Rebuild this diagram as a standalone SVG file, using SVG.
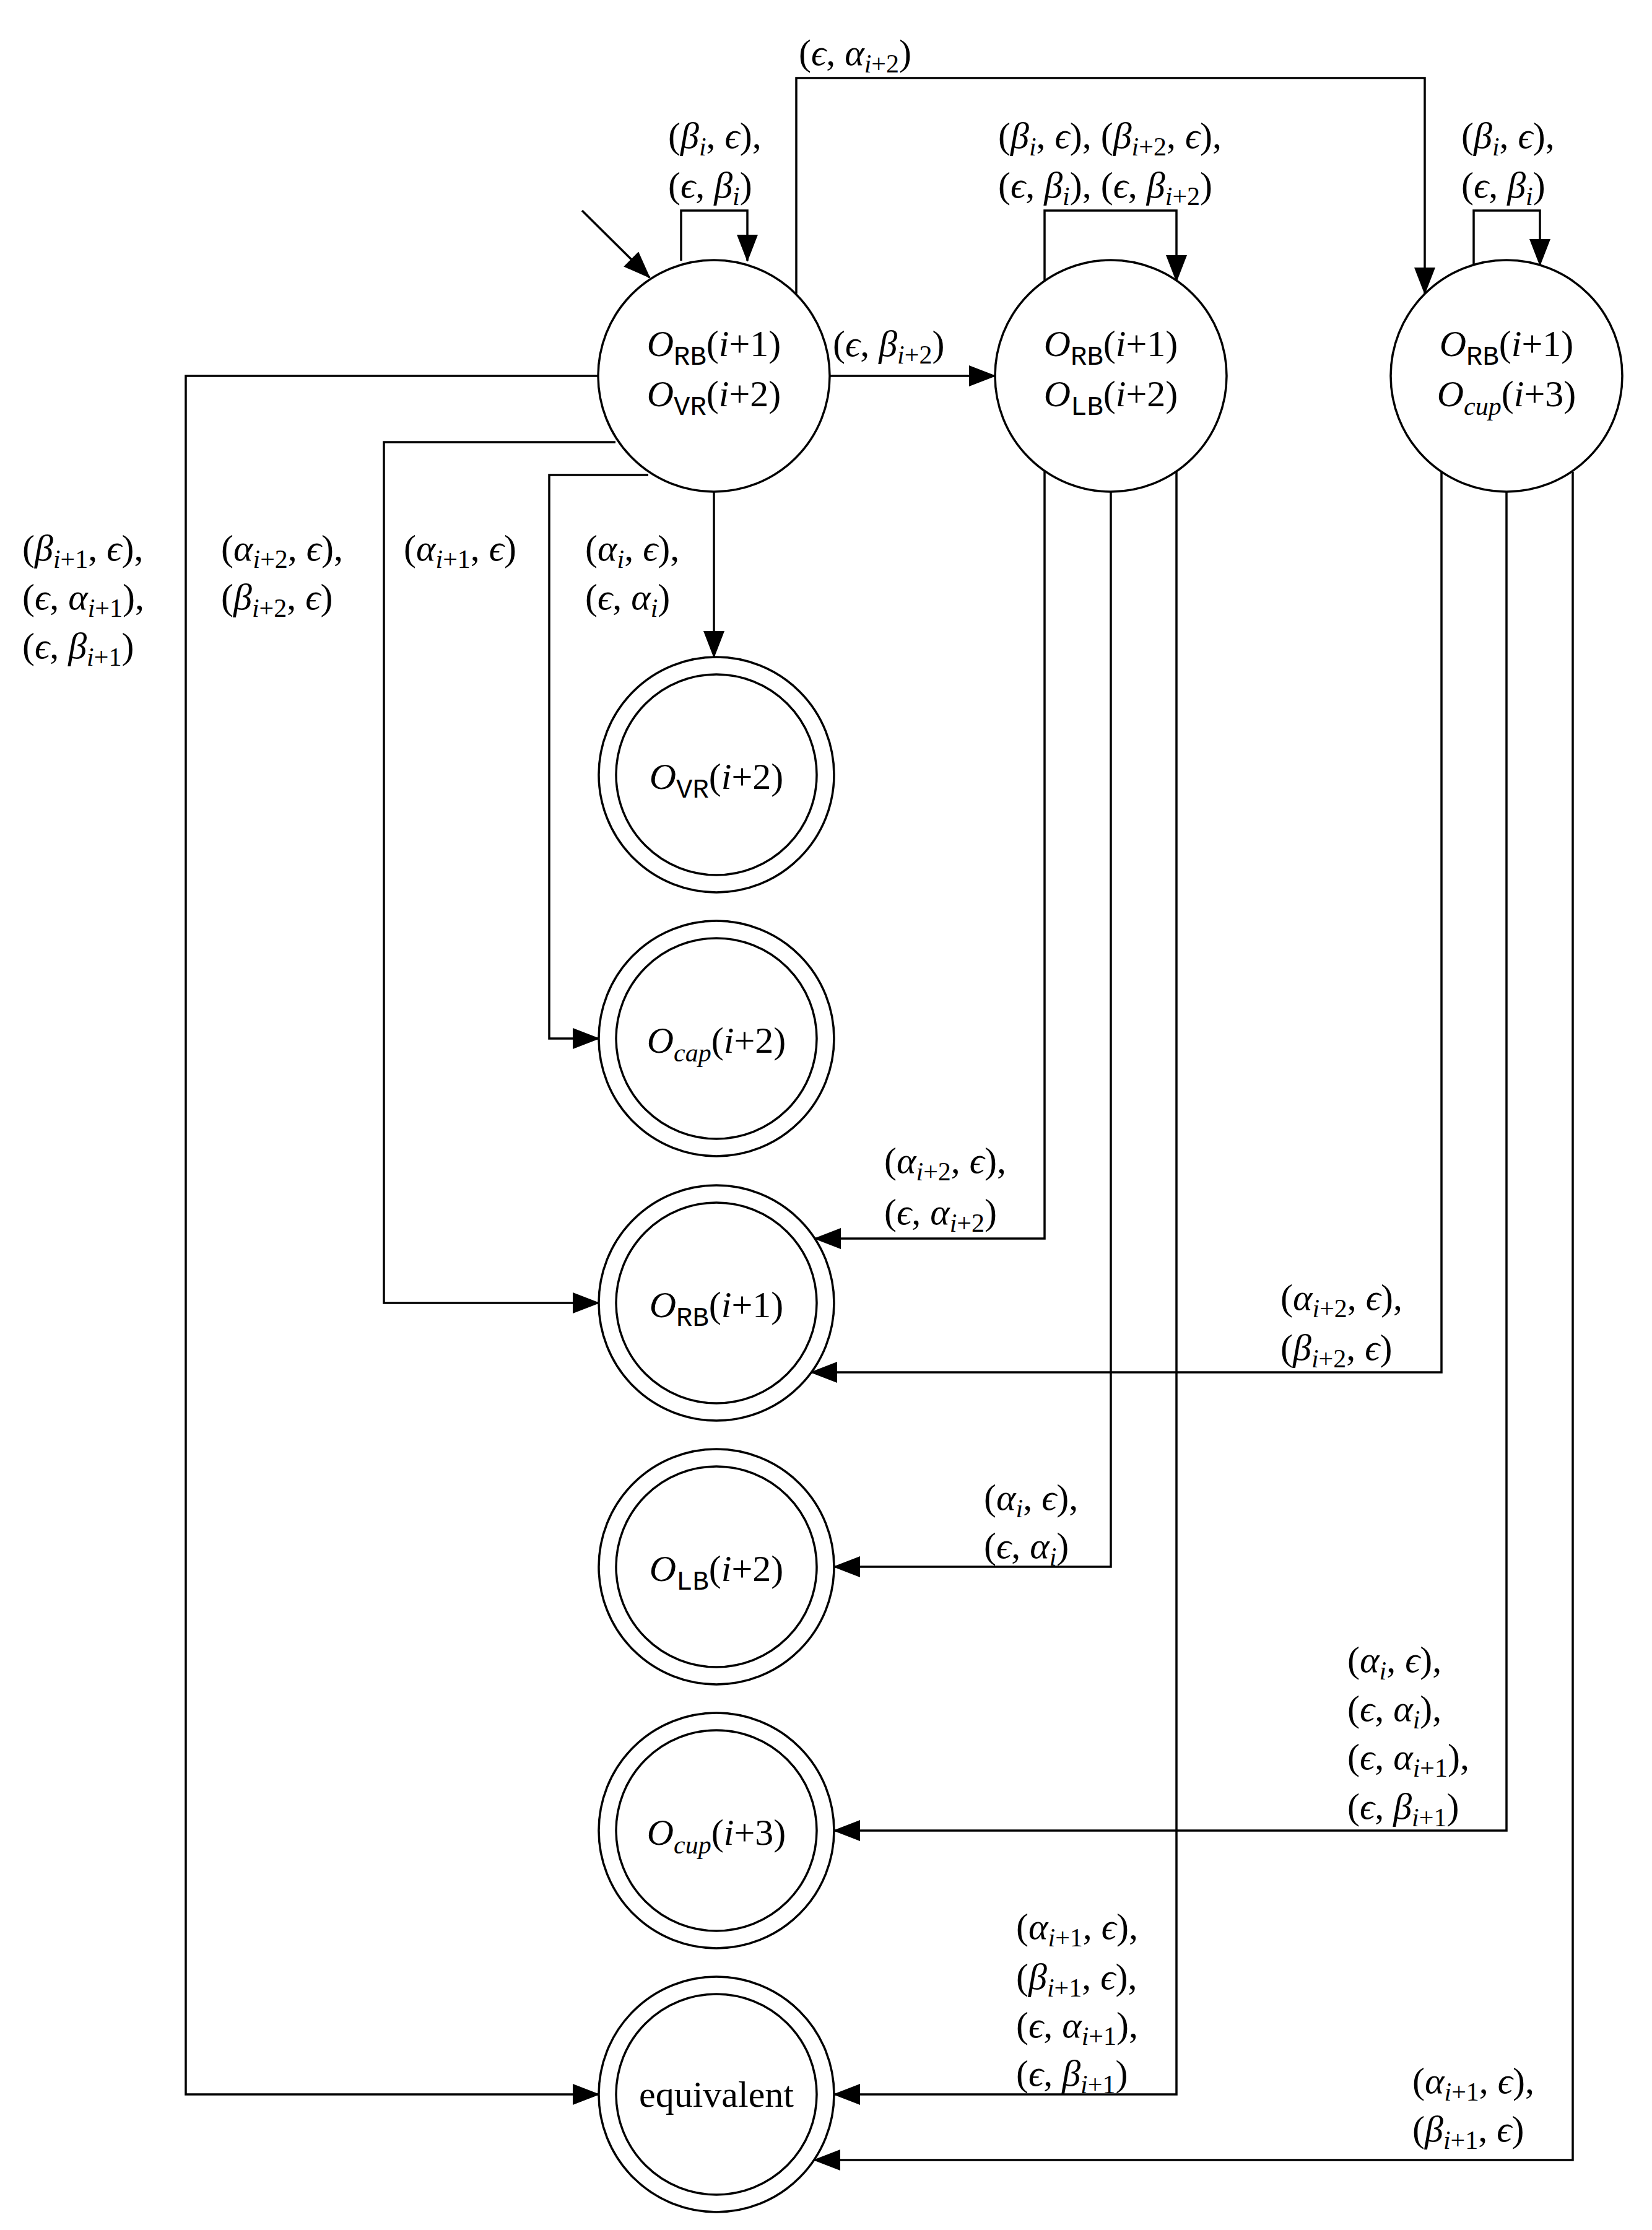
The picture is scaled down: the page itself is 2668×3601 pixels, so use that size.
<svg xmlns="http://www.w3.org/2000/svg" width="2668" height="3601" viewBox="0 0 2668 3601">
<style>
.t{font-family:"Liberation Serif","DejaVu Serif",serif;font-size:60px;fill:#000}
.m{font-style:italic}
.s{font-style:italic;font-size:42px}
.r{font-size:42px}
.tt{font-family:"Liberation Mono",monospace;font-size:44px}
.e{fill:#fff;stroke:#000;stroke-width:3.5}
.c{fill:none;stroke:#000;stroke-width:3.5}
</style>
<defs>
<marker id="a" markerUnits="userSpaceOnUse" markerWidth="44" markerHeight="34" refX="42" refY="17" orient="auto">
<path d="M0,0 L44,17 L0,34 Z" fill="#000"/>
</marker>
</defs>
<rect width="2668" height="3601" fill="#fff"/>
<g id="connectors" class="c" marker-end="url(#a)">
<path d="M940 340 L1049 448"/>
<path d="M1100 421 V340 H1207 V421"/>
<path d="M1286 474 V126 H2301 V474"/>
<path d="M1339 607 H1607"/>
<path d="M1687 454 V340 H1900 V454"/>
<path d="M2380 428 V340 H2487 V428"/>
<path d="M967 607 H300 V3382 H967"/>
<path d="M994 714 H620 V2104 H967"/>
<path d="M1047 767 H887 V1677 H967"/>
<path d="M1153 793 V1061"/>
<path d="M1687 760 V2000 H1316"/>
<path d="M1794 794 V2530 H1347"/>
<path d="M1900 760 V3382 H1347"/>
<path d="M2328 762 V2216 H1310"/>
<path d="M2433 794 V2956 H1347"/>
<path d="M2540 762 V3488 H1315"/>
</g>
<g id="n1"><ellipse class="e" cx="1153" cy="607" rx="187" ry="187"/>
<text class="t" x="1153" y="575" text-anchor="middle"><tspan class="m">O</tspan><tspan class="tt" dy="14">RB</tspan><tspan dy="-14">(</tspan><tspan class="m">i</tspan>+1)</text>
<text class="t" x="1153" y="656" text-anchor="middle"><tspan class="m">O</tspan><tspan class="tt" dy="14">VR</tspan><tspan dy="-14">(</tspan><tspan class="m">i</tspan>+2)</text></g>
<g id="n2"><ellipse class="e" cx="1794" cy="607" rx="187" ry="187"/>
<text class="t" x="1794" y="575" text-anchor="middle"><tspan class="m">O</tspan><tspan class="tt" dy="14">RB</tspan><tspan dy="-14">(</tspan><tspan class="m">i</tspan>+1)</text>
<text class="t" x="1794" y="656" text-anchor="middle"><tspan class="m">O</tspan><tspan class="tt" dy="14">LB</tspan><tspan dy="-14">(</tspan><tspan class="m">i</tspan>+2)</text></g>
<g id="n3"><ellipse class="e" cx="2433" cy="607" rx="187" ry="187"/>
<text class="t" x="2433" y="575" text-anchor="middle"><tspan class="m">O</tspan><tspan class="tt" dy="14">RB</tspan><tspan dy="-14">(</tspan><tspan class="m">i</tspan>+1)</text>
<text class="t" x="2433" y="656" text-anchor="middle"><tspan class="m">O</tspan><tspan class="s" dy="14">cup</tspan><tspan dy="-14">(</tspan><tspan class="m">i</tspan>+3)</text></g>
<g id="f1"><circle class="e" cx="1157" cy="1251" r="190"/><circle class="e" cx="1157" cy="1251" r="162"/>
<text class="t" x="1157" y="1274" text-anchor="middle"><tspan class="m">O</tspan><tspan class="tt" dy="14">VR</tspan><tspan dy="-14">(</tspan><tspan class="m">i</tspan>+2)</text></g>
<g id="f2"><circle class="e" cx="1157" cy="1677" r="190"/><circle class="e" cx="1157" cy="1677" r="162"/>
<text class="t" x="1157" y="1700" text-anchor="middle"><tspan class="m">O</tspan><tspan class="s" dy="14">cap</tspan><tspan dy="-14">(</tspan><tspan class="m">i</tspan>+2)</text></g>
<g id="f3"><circle class="e" cx="1157" cy="2104" r="190"/><circle class="e" cx="1157" cy="2104" r="162"/>
<text class="t" x="1157" y="2127" text-anchor="middle"><tspan class="m">O</tspan><tspan class="tt" dy="14">RB</tspan><tspan dy="-14">(</tspan><tspan class="m">i</tspan>+1)</text></g>
<g id="f4"><circle class="e" cx="1157" cy="2530" r="190"/><circle class="e" cx="1157" cy="2530" r="162"/>
<text class="t" x="1157" y="2553" text-anchor="middle"><tspan class="m">O</tspan><tspan class="tt" dy="14">LB</tspan><tspan dy="-14">(</tspan><tspan class="m">i</tspan>+2)</text></g>
<g id="f5"><circle class="e" cx="1157" cy="2956" r="190"/><circle class="e" cx="1157" cy="2956" r="162"/>
<text class="t" x="1157" y="2979" text-anchor="middle"><tspan class="m">O</tspan><tspan class="s" dy="14">cup</tspan><tspan dy="-14">(</tspan><tspan class="m">i</tspan>+3)</text></g>
<g id="f6"><circle class="e" cx="1157" cy="3382" r="190"/><circle class="e" cx="1157" cy="3382" r="162"/>
<text class="t" x="1157" y="3402" text-anchor="middle">equivalent</text></g>
<g id="labels">
<text class="t" x="1079" y="239">(<tspan class="m">β</tspan><tspan class="s" dy="12">i</tspan><tspan dy="-12">, </tspan><tspan class="m">ϵ</tspan>),</text>
<text class="t" x="1079" y="319">(<tspan class="m">ϵ</tspan>, <tspan class="m">β</tspan><tspan class="s" dy="12">i</tspan><tspan dy="-12">)</tspan></text>
<text class="t" x="1290" y="105">(<tspan class="m">ϵ</tspan>, <tspan class="m">α</tspan><tspan class="s" dy="12">i</tspan><tspan class="r">+2</tspan><tspan dy="-12">)</tspan></text>
<text class="t" x="1612" y="239">(<tspan class="m">β</tspan><tspan class="s" dy="12">i</tspan><tspan dy="-12">, </tspan><tspan class="m">ϵ</tspan>), (<tspan class="m">β</tspan><tspan class="s" dy="12">i</tspan><tspan class="r">+2</tspan><tspan dy="-12">, </tspan><tspan class="m">ϵ</tspan>),</text>
<text class="t" x="1612" y="319">(<tspan class="m">ϵ</tspan>, <tspan class="m">β</tspan><tspan class="s" dy="12">i</tspan><tspan dy="-12">), (</tspan><tspan class="m">ϵ</tspan>, <tspan class="m">β</tspan><tspan class="s" dy="12">i</tspan><tspan class="r">+2</tspan><tspan dy="-12">)</tspan></text>
<text class="t" x="2360" y="239">(<tspan class="m">β</tspan><tspan class="s" dy="12">i</tspan><tspan dy="-12">, </tspan><tspan class="m">ϵ</tspan>),</text>
<text class="t" x="2360" y="319">(<tspan class="m">ϵ</tspan>, <tspan class="m">β</tspan><tspan class="s" dy="12">i</tspan><tspan dy="-12">)</tspan></text>
<text class="t" x="1345" y="575">(<tspan class="m">ϵ</tspan>, <tspan class="m">β</tspan><tspan class="s" dy="12">i</tspan><tspan class="r">+2</tspan><tspan dy="-12">)</tspan></text>
<text class="t" x="36" y="905">(<tspan class="m">β</tspan><tspan class="s" dy="12">i</tspan><tspan class="r">+1</tspan><tspan dy="-12">, </tspan><tspan class="m">ϵ</tspan>),</text>
<text class="t" x="36" y="984">(<tspan class="m">ϵ</tspan>, <tspan class="m">α</tspan><tspan class="s" dy="12">i</tspan><tspan class="r">+1</tspan><tspan dy="-12">),</tspan></text>
<text class="t" x="36" y="1063">(<tspan class="m">ϵ</tspan>, <tspan class="m">β</tspan><tspan class="s" dy="12">i</tspan><tspan class="r">+1</tspan><tspan dy="-12">)</tspan></text>
<text class="t" x="357" y="905">(<tspan class="m">α</tspan><tspan class="s" dy="12">i</tspan><tspan class="r">+2</tspan><tspan dy="-12">, </tspan><tspan class="m">ϵ</tspan>),</text>
<text class="t" x="357" y="984">(<tspan class="m">β</tspan><tspan class="s" dy="12">i</tspan><tspan class="r">+2</tspan><tspan dy="-12">, </tspan><tspan class="m">ϵ</tspan>)</text>
<text class="t" x="652" y="905">(<tspan class="m">α</tspan><tspan class="s" dy="12">i</tspan><tspan class="r">+1</tspan><tspan dy="-12">, </tspan><tspan class="m">ϵ</tspan>)</text>
<text class="t" x="945" y="905">(<tspan class="m">α</tspan><tspan class="s" dy="12">i</tspan><tspan dy="-12">, </tspan><tspan class="m">ϵ</tspan>),</text>
<text class="t" x="945" y="984">(<tspan class="m">ϵ</tspan>, <tspan class="m">α</tspan><tspan class="s" dy="12">i</tspan><tspan dy="-12">)</tspan></text>
<text class="t" x="1428" y="1894">(<tspan class="m">α</tspan><tspan class="s" dy="12">i</tspan><tspan class="r">+2</tspan><tspan dy="-12">, </tspan><tspan class="m">ϵ</tspan>),</text>
<text class="t" x="1428" y="1977">(<tspan class="m">ϵ</tspan>, <tspan class="m">α</tspan><tspan class="s" dy="12">i</tspan><tspan class="r">+2</tspan><tspan dy="-12">)</tspan></text>
<text class="t" x="2068" y="2115">(<tspan class="m">α</tspan><tspan class="s" dy="12">i</tspan><tspan class="r">+2</tspan><tspan dy="-12">, </tspan><tspan class="m">ϵ</tspan>),</text>
<text class="t" x="2068" y="2196">(<tspan class="m">β</tspan><tspan class="s" dy="12">i</tspan><tspan class="r">+2</tspan><tspan dy="-12">, </tspan><tspan class="m">ϵ</tspan>)</text>
<text class="t" x="1589" y="2438">(<tspan class="m">α</tspan><tspan class="s" dy="12">i</tspan><tspan dy="-12">, </tspan><tspan class="m">ϵ</tspan>),</text>
<text class="t" x="1589" y="2516">(<tspan class="m">ϵ</tspan>, <tspan class="m">α</tspan><tspan class="s" dy="12">i</tspan><tspan dy="-12">)</tspan></text>
<text class="t" x="2176" y="2700">(<tspan class="m">α</tspan><tspan class="s" dy="12">i</tspan><tspan dy="-12">, </tspan><tspan class="m">ϵ</tspan>),</text>
<text class="t" x="2176" y="2779">(<tspan class="m">ϵ</tspan>, <tspan class="m">α</tspan><tspan class="s" dy="12">i</tspan><tspan dy="-12">),</tspan></text>
<text class="t" x="2176" y="2857">(<tspan class="m">ϵ</tspan>, <tspan class="m">α</tspan><tspan class="s" dy="12">i</tspan><tspan class="r">+1</tspan><tspan dy="-12">),</tspan></text>
<text class="t" x="2176" y="2937">(<tspan class="m">ϵ</tspan>, <tspan class="m">β</tspan><tspan class="s" dy="12">i</tspan><tspan class="r">+1</tspan><tspan dy="-12">)</tspan></text>
<text class="t" x="1641" y="3131">(<tspan class="m">α</tspan><tspan class="s" dy="12">i</tspan><tspan class="r">+1</tspan><tspan dy="-12">, </tspan><tspan class="m">ϵ</tspan>),</text>
<text class="t" x="1641" y="3212">(<tspan class="m">β</tspan><tspan class="s" dy="12">i</tspan><tspan class="r">+1</tspan><tspan dy="-12">, </tspan><tspan class="m">ϵ</tspan>),</text>
<text class="t" x="1641" y="3290">(<tspan class="m">ϵ</tspan>, <tspan class="m">α</tspan><tspan class="s" dy="12">i</tspan><tspan class="r">+1</tspan><tspan dy="-12">),</tspan></text>
<text class="t" x="1641" y="3368">(<tspan class="m">ϵ</tspan>, <tspan class="m">β</tspan><tspan class="s" dy="12">i</tspan><tspan class="r">+1</tspan><tspan dy="-12">)</tspan></text>
<text class="t" x="2281" y="3380">(<tspan class="m">α</tspan><tspan class="s" dy="12">i</tspan><tspan class="r">+1</tspan><tspan dy="-12">, </tspan><tspan class="m">ϵ</tspan>),</text>
<text class="t" x="2281" y="3458">(<tspan class="m">β</tspan><tspan class="s" dy="12">i</tspan><tspan class="r">+1</tspan><tspan dy="-12">, </tspan><tspan class="m">ϵ</tspan>)</text>
</g>
</svg>
